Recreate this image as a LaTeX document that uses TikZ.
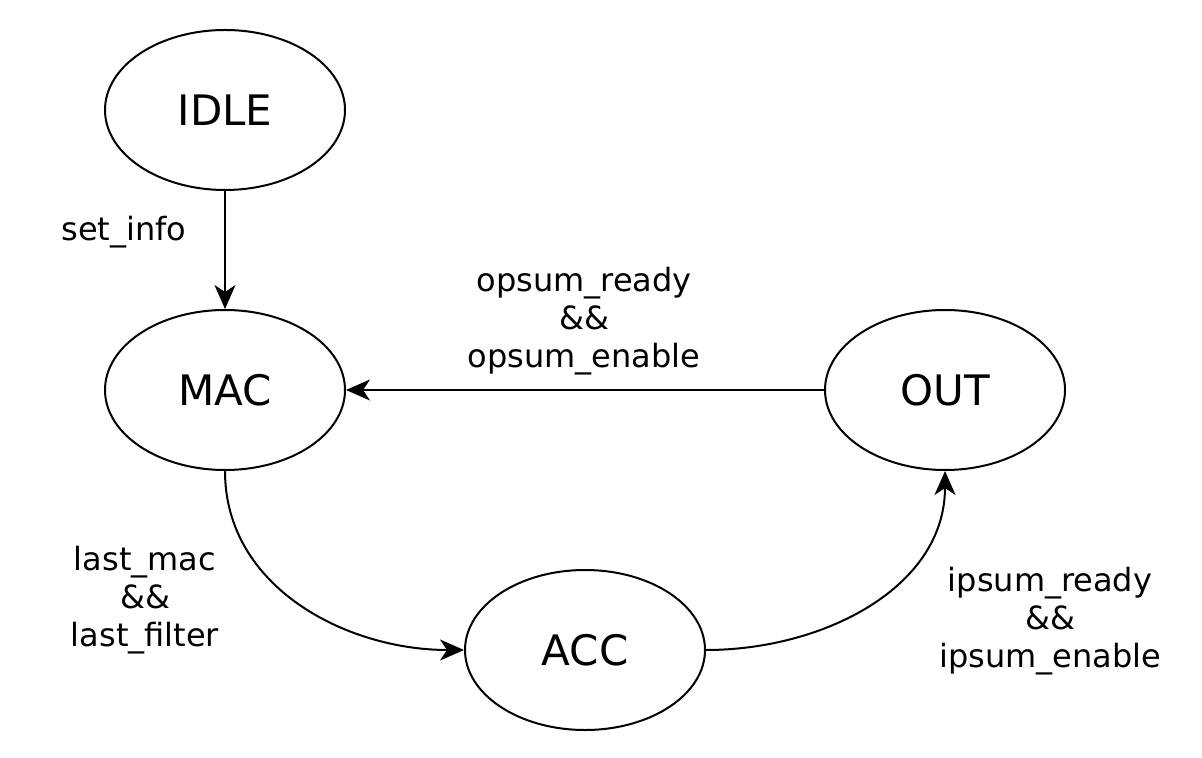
\documentclass[tikz,border=0pt]{standalone}
\usepackage{fontspec}
\setmainfont{DejaVu Sans}
\usetikzlibrary{arrows.meta,shapes.geometric}

\begin{document}
\begin{tikzpicture}[
  x=0.5pt, y=-0.5pt,
  state/.style={draw, ellipse, line width=1pt, minimum width=120pt, minimum height=80pt,
                inner sep=0pt, font=\fontsize{21}{25}\selectfont},
  cond/.style={align=center, font=\fontsize{16}{19}\selectfont},
  flow/.style={-{Stealth[length=12pt, width=10.5pt, inset=3.5pt]}, line width=1pt}
]
  \useasboundingbox (0,0) rectangle (1202,758);
  \node[state] (idle) at (225,110) {IDLE};
  \node[state] (mac) at (225,390) {MAC};
  \node[state] (out) at (945,390) {OUT};
  \node[state] (acc) at (585,650) {ACC};
  \draw[flow] (idle) -- (mac);
  \draw[flow] (out) -- (mac);
  \draw[flow] (mac.south) to[out=-90, in=180] (acc.west);
  \draw[flow] (acc.east) to[out=0, in=-90] (out.south);
  \node[cond] (setinfo) at (124,232) {set\_info};
  \node[cond] (opsum) at (584,321) {opsum\_ready\\\&\&\\opsum\_enable};
  \node[cond] (lastmac) at (145,600) {last\_mac\\\&\&\\last\_filter};
  \node[cond] (ipsum) at (1050,621) {ipsum\_ready\\\&\&\\ipsum\_enable};
\end{tikzpicture}
\end{document}
